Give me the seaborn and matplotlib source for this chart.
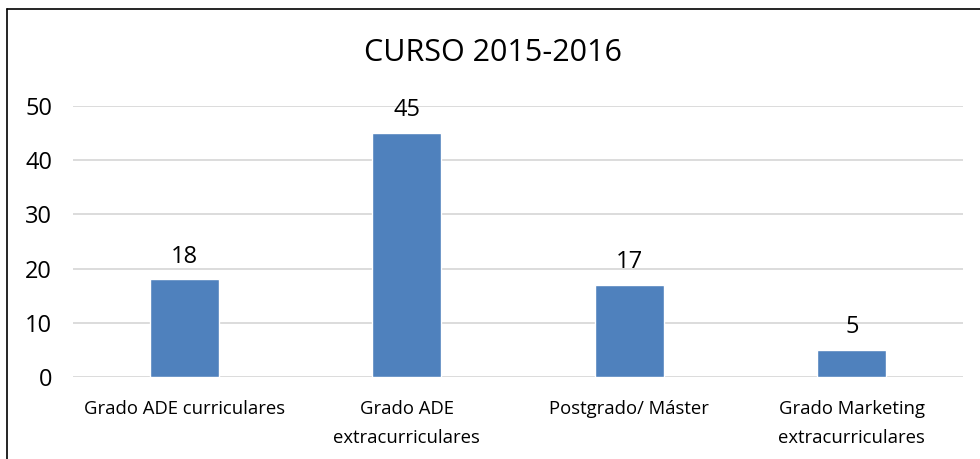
import matplotlib
matplotlib.use("Agg")
import matplotlib.pyplot as plt
import seaborn as sns
import pandas as pd
from matplotlib.lines import Line2D

categories = ["Grado ADE curriculares", "Grado ADE\nextracurriculares", "Postgrado/ Máster", "Grado Marketing\nextracurriculares"]
values = [18, 45, 17, 5]
yticks = [0, 10, 20, 30, 40, 50]
title = "CURSO 2015-2016"

sns.set_theme(style="white")
plt.rcParams['font.family'] = ['Open Sans', 'DejaVu Sans']

W, H = 980, 459
fig = plt.figure(figsize=(W/100, H/100), dpi=100)
ax = fig.add_axes([73/W, 1-377/H, (963-73)/W, (377-106)/H])

df = pd.DataFrame({"cat": categories, "val": values})
sns.barplot(data=df, x="cat", y="val", color="#4F81BD", saturation=1, width=0.31, ax=ax)

ax.set_ylim(0, 50)
ax.set_xlim(-0.5, len(categories)-0.5)
ax.set_yticks(yticks)
ax.yaxis.grid(True, color="#D9D9D9", linewidth=1.3)
ax.set_axisbelow(True)
for s in ax.spines.values():
    s.set_visible(False)
ax.set_xlabel("")
ax.set_ylabel("")
ax.tick_params(axis="y", labelsize=17, pad=15, length=0, colors="#000000")
ax.tick_params(axis="x", labelsize=13.3, pad=16.5, length=0, colors="#000000")
for lab in ax.get_xticklabels():
    lab.set_linespacing(1.8)

for i, v in enumerate(values):
    ax.text(i, v + 2.0, str(v), ha="center", va="bottom", fontsize=17, color="#000000")

fig.text(493/W, 1-53/H, title, ha="center", va="center", fontsize=22, color="#000000")

fig.add_artist(Line2D([7/W, 7/W], [0, 1-9/H], transform=fig.transFigure, color="black", linewidth=1.2))
fig.add_artist(Line2D([7/W, 1], [1-9/H, 1-9/H], transform=fig.transFigure, color="black", linewidth=1.2))

fig.savefig("out.png", dpi=100)
